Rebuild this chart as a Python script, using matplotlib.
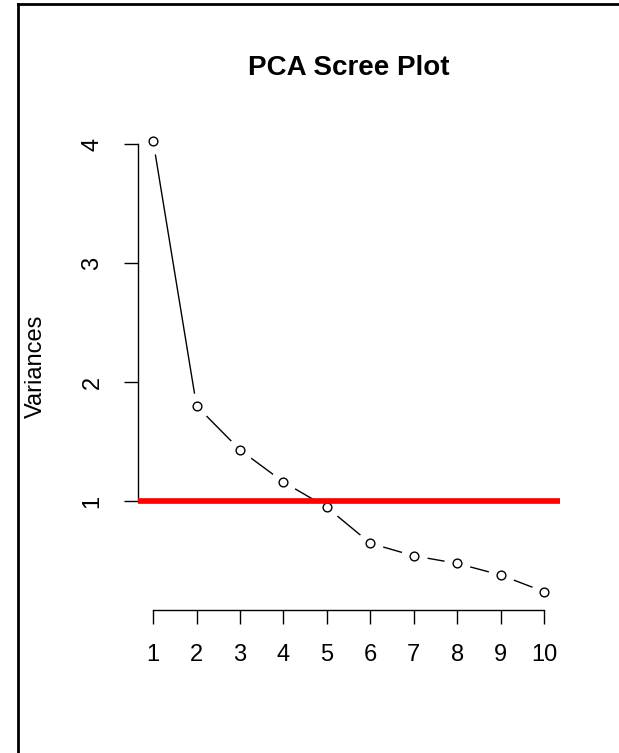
import matplotlib.pyplot as plt
from matplotlib.lines import Line2D

plt.rcParams['font.family'] = ['Liberation Sans', 'DejaVu Sans']

# data
components = [1, 2, 3, 4, 5, 6, 7, 8, 9, 10]
variances = [4.03, 1.80, 1.43, 1.16, 0.947, 0.645, 0.54, 0.476, 0.378, 0.238]
cutoff = 1
y_ticks = [1, 2, 3, 4]

W, H = 619, 753
fig = plt.figure(figsize=(W / 100, H / 100), dpi=100)
ax = fig.add_axes([137.6 / W, 1 - 609.8 / H, (559.7 - 137.6) / W, (609.8 - 122.6) / H])

# R style type="b": segments with gaps around the points
ax.plot(components, variances, color='black', lw=1, zorder=2)
ax.plot(components, variances, ls='none', marker='o', ms=19, mfc='white', mec='none', zorder=3)
ax.plot(components, variances, ls='none', marker='o', ms=6.3, mfc='white', mec='black', mew=1, zorder=4)
ax.axhline(cutoff, color='red', lw=4.1, solid_capstyle='butt', zorder=5)

ax.set_xlim(0.6436, 10.3564)
ax.set_ylim(0.0862, 4.1818)

for s in ['top', 'right']:
    ax.spines[s].set_visible(False)
ax.spines['left'].set_bounds(1, 4)
ax.spines['bottom'].set_bounds(1, 10)
ax.spines['left'].set_linewidth(1)
ax.spines['bottom'].set_linewidth(1)

ax.set_xticks(components)
ax.set_yticks(y_ticks)
ax.tick_params(length=10, width=1, labelsize=17, pad=14.5)
for lab in ax.get_yticklabels():
    lab.set_rotation(90)
    lab.set_va('center')
    lab.set_ha('right')

ax.text((36 - 137.6) / (559.7 - 137.6), 0.5, 'Variances', transform=ax.transAxes,
        rotation=90, ha='center', va='center', fontsize=17)
ax.set_title('PCA Scree Plot', fontsize=20, fontweight='bold', pad=34.3)

# outer frame (left and top only)
fig.add_artist(Line2D([18 / W, 18 / W], [0, 1 - 4 / H], transform=fig.transFigure, color='black', lw=2))
fig.add_artist(Line2D([18 / W, 1], [1 - 4 / H, 1 - 4 / H], transform=fig.transFigure, color='black', lw=2))

fig.savefig('out.png', dpi=100)
